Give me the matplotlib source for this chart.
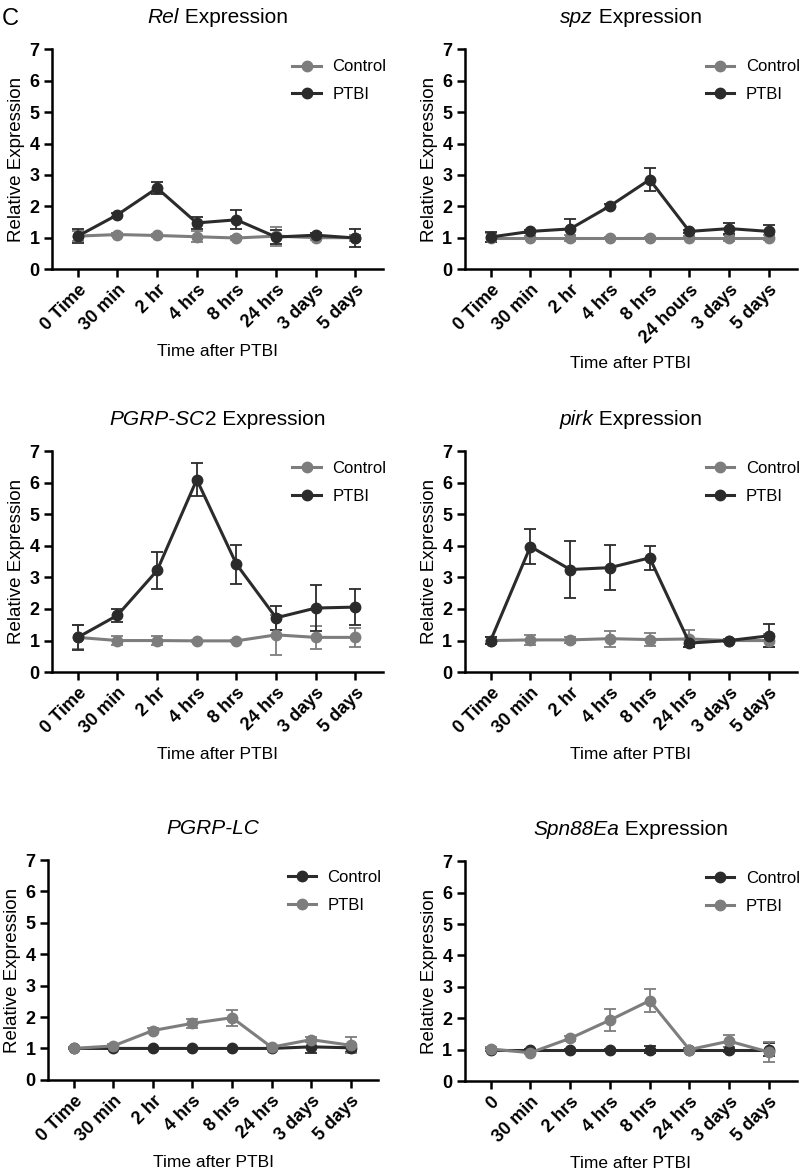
import matplotlib
matplotlib.use("Agg")
import matplotlib.pyplot as plt
from matplotlib.offsetbox import TextArea, HPacker, AnchoredOffsetbox
import numpy as np

plt.rcParams["font.family"] = ["Liberation Sans", "DejaVu Sans"]

GRAY = "#7d7d7d"
DARK = "#2b2b2b"

# ---- tick labels ----
labels_std = ["0 Time", "30 min", "2 hr", "4 hrs", "8 hrs", "24 hrs", "3 days", "5 days"]
labels_spz = ["0 Time", "30 min", "2 hr", "4 hrs", "8 hrs", "24 hours", "3 days", "5 days"]
labels_spn = ["0", "30 min", "2 hrs", "4 hrs", "8 hrs", "24 hrs", "3 days", "5 days"]

# ---- Rel ----
rel_ctrl = [1.05, 1.1, 1.07, 1.03, 0.99, 1.05, 1.0, 1.0]
rel_ctrl_err = [0.15, 0.05, 0.05, 0.18, 0.05, 0.3, 0.06, 0.1]
rel_ptbi = [1.05, 1.73, 2.58, 1.47, 1.57, 1.02, 1.08, 0.99]
rel_ptbi_err = [0.23, 0.06, 0.2, 0.18, 0.3, 0.22, 0.08, 0.29]

# ---- spz ----
spz_ctrl = [1.0, 1.0, 1.0, 1.0, 1.0, 1.0, 1.0, 1.0]
spz_ctrl_err = [0.15, 0.04, 0.1, 0.03, 0.03, 0.05, 0.1, 0.07]
spz_ptbi = [1.02, 1.2, 1.28, 2.01, 2.85, 1.2, 1.29, 1.2]
spz_ptbi_err = [0.17, 0.05, 0.3, 0.07, 0.36, 0.05, 0.18, 0.2]

# ---- PGRP-SC2 ----
sc2_ctrl = [1.1, 1.0, 1.0, 0.99, 0.99, 1.18, 1.1, 1.1]
sc2_ctrl_err = [0.38, 0.15, 0.15, 0.03, 0.03, 0.63, 0.37, 0.3]
sc2_ptbi = [1.1, 1.8, 3.22, 6.1, 3.42, 1.72, 2.03, 2.06]
sc2_ptbi_err = [0.4, 0.2, 0.59, 0.52, 0.62, 0.38, 0.74, 0.56]

# ---- pirk ----
pirk_ctrl = [1.0, 1.02, 1.02, 1.06, 1.03, 1.05, 1.0, 1.0]
pirk_ctrl_err = [0.1, 0.17, 0.1, 0.25, 0.2, 0.27, 0.05, 0.2]
pirk_ptbi = [1.0, 3.98, 3.25, 3.31, 3.62, 0.92, 1.0, 1.15]
pirk_ptbi_err = [0.1, 0.57, 0.91, 0.72, 0.37, 0.12, 0.05, 0.37]

# ---- PGRP-LC ----
lc_ctrl = [1.0, 1.0, 1.0, 1.0, 1.0, 1.0, 1.05, 1.02]
lc_ctrl_err = [0.02, 0.02, 0.02, 0.02, 0.02, 0.02, 0.2, 0.12]
lc_ptbi = [1.0, 1.08, 1.57, 1.8, 1.98, 1.04, 1.28, 1.1]
lc_ptbi_err = [0.03, 0.05, 0.07, 0.15, 0.25, 0.04, 0.09, 0.25]

# ---- Spn88Ea ----
spn_ctrl = [1.0, 1.0, 1.0, 1.0, 1.0, 1.0, 1.0, 1.0]
spn_ctrl_err = [0.05, 0.03, 0.03, 0.03, 0.1, 0.05, 0.07, 0.2]
spn_ptbi = [1.02, 0.9, 1.36, 1.94, 2.56, 1.0, 1.27, 0.92]
spn_ptbi_err = [0.05, 0.05, 0.08, 0.35, 0.36, 0.05, 0.2, 0.31]


def mixed_title(ax, parts, y=1.10):
    # parts: list of (text, fontstyle) -> italic gene names next to upright text
    boxes = [TextArea(t, textprops=dict(fontsize=15, fontstyle=s)) for t, s in parts]
    pack = HPacker(children=boxes, pad=0, sep=0, align="baseline")
    anch = AnchoredOffsetbox(loc="lower center", child=pack, pad=0, borderpad=0,
                             bbox_to_anchor=(0.5, y), bbox_transform=ax.transAxes,
                             frameon=False)
    ax.add_artist(anch)


def draw_panel(ax, title_parts, labels, ctrl, ctrl_err, ptbi, ptbi_err, ctrl_color, ptbi_color):
    x = np.arange(len(labels))
    handles = []
    for vals, errs, col, name in [(ctrl, ctrl_err, ctrl_color, "Control"),
                                  (ptbi, ptbi_err, ptbi_color, "PTBI")]:
        c = ax.errorbar(x, vals, yerr=errs, color=col, marker="o", markersize=7.5,
                        linewidth=2.2, elinewidth=1.3, capsize=4, capthick=1.3, label=name)
        handles.append(c[0])
    ax.set_xlim(-0.65, 7.7)
    ax.set_ylim(0, 7)
    ax.set_yticks(range(8))
    ax.set_xticks(x)
    ax.set_xticklabels(labels, rotation=45, ha="right", rotation_mode="anchor",
                       fontweight="bold", fontsize=13)
    for lab in ax.get_yticklabels():
        lab.set_fontweight("bold")
        lab.set_fontsize(13)
    ax.spines["top"].set_visible(False)
    ax.spines["right"].set_visible(False)
    ax.spines["left"].set_linewidth(1.8)
    ax.spines["bottom"].set_linewidth(1.8)
    ax.tick_params(width=1.8, length=6, pad=3)
    ax.set_ylabel("Relative Expression", fontsize=13.5, labelpad=3)
    ax.set_xlabel("Time after PTBI", fontsize=12.5, labelpad=7)
    mixed_title(ax, title_parts)
    ax.legend(handles=handles, labels=["Control", "PTBI"], loc="upper right",
              frameon=False, fontsize=12, handlelength=1.7, handletextpad=0.7,
              borderaxespad=0.2, bbox_to_anchor=(1.04, 1.0), labelspacing=0.75)


fig = plt.figure(figsize=(8, 11.75), dpi=100)

ax1 = fig.add_axes([0.065, 0.771, 0.414, 0.187])
ax2 = fig.add_axes([0.581, 0.771, 0.415, 0.187])
ax3 = fig.add_axes([0.065, 0.428, 0.414, 0.188])
ax4 = fig.add_axes([0.581, 0.428, 0.415, 0.188])
ax5 = fig.add_axes([0.060, 0.081, 0.413, 0.187])
ax6 = fig.add_axes([0.581, 0.080, 0.415, 0.187])

draw_panel(ax1, [("Rel", "italic"), (" Expression", "normal")], labels_std,
           rel_ctrl, rel_ctrl_err, rel_ptbi, rel_ptbi_err, GRAY, DARK)
draw_panel(ax2, [("spz", "italic"), (" Expression", "normal")], labels_spz,
           spz_ctrl, spz_ctrl_err, spz_ptbi, spz_ptbi_err, GRAY, DARK)
draw_panel(ax3, [("PGRP-SC", "italic"), ("2 Expression", "normal")], labels_std,
           sc2_ctrl, sc2_ctrl_err, sc2_ptbi, sc2_ptbi_err, GRAY, DARK)
draw_panel(ax4, [("pirk", "italic"), (" Expression", "normal")], labels_std,
           pirk_ctrl, pirk_ctrl_err, pirk_ptbi, pirk_ptbi_err, GRAY, DARK)
draw_panel(ax5, [("PGRP-LC", "italic")], labels_std,
           lc_ctrl, lc_ctrl_err, lc_ptbi, lc_ptbi_err, DARK, GRAY)
draw_panel(ax6, [("Spn88Ea", "italic"), (" Expression", "normal")], labels_spn,
           spn_ctrl, spn_ctrl_err, spn_ptbi, spn_ptbi_err, DARK, GRAY)

fig.text(0.002, 0.993, "C", fontsize=17, va="top", ha="left")

fig.savefig("out.png", dpi=100, facecolor="white")
